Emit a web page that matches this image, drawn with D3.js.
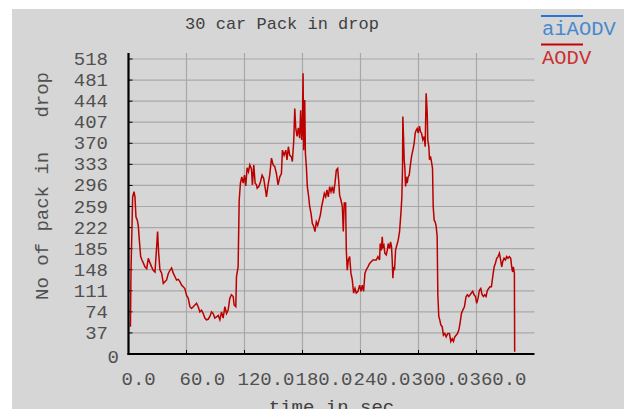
<!DOCTYPE html>
<html>
<head>
<meta charset="utf-8">
<script src="https://cdn.jsdelivr.net/npm/d3@7"></script>
<style>
  body { margin: 0; background: #fff; }
  svg text { font-family: "Courier New", "Liberation Mono", monospace; white-space: pre; }
</style>
</head>
<body>
<svg id="chart" width="624" height="409"></svg>
<script>
// time (sec) and packets dropped
const times = [2.0, 2.6, 4.3, 5.7, 6.7, 7.7, 9.1, 10.2, 11.2, 12.6, 13.9, 15.3, 17.0, 18.8, 20.5, 22.2, 23.9, 25.6, 27.4, 29.1, 30.1, 31.2, 32.5, 34.3, 36.0, 37.7, 39.4, 41.1, 42.9, 44.6, 46.3, 48.0, 49.7, 51.5, 53.2, 54.9, 56.6, 58.3, 60.1, 61.8, 63.5, 65.2, 67.0, 68.7, 70.4, 72.1, 73.8, 75.6, 77.3, 79.0, 80.7, 82.4, 84.2, 85.9, 87.6, 89.3, 91.1, 92.8, 94.5, 96.2, 97.9, 99.7, 101.4, 103.1, 104.8, 106.5, 108.3, 109.3, 111.0, 111.7, 113.4, 114.5, 115.8, 117.2, 118.6, 120.0, 121.3, 122.7, 124.1, 125.5, 127.2, 128.2, 129.6, 131.0, 132.4,
  133.1, 134.8, 136.5, 138.2, 139.9, 141.7, 142.7, 144.4, 146.1, 147.9, 149.6, 151.3, 153.0, 154.7, 156.5, 158.2, 159.2, 160.9, 162.7, 164.0, 165.4, 166.8, 168.5, 169.5, 170.9, 172.0, 173.0, 174.4, 175.7, 177.1, 178.1, 179.2, 179.9, 180.6, 181.2, 182.3, 183.0, 184.0, 185.0, 186.4, 187.4, 188.8, 190.2, 191.6, 192.9, 194.3, 195.7, 197.1, 198.5, 199.8, 201.2, 202.6, 204.0, 205.3, 206.7, 208.1, 209.5, 210.9, 212.2, 213.6, 215.0, 216.4, 217.4, 218.4, 219.8, 221.2, 222.2, 223.2, 224.6, 225.3, 226.3, 227.4, 228.8, 230.1, 231.5, 232.9, 234.3, 235.6, 237.4, 239.1, 240.5, 241.8, 243.2, 244.6, 246.0, 247.7, 249.4, 251.1, 252.8, 254.6, 256.3, 258.0, 259.7,
  260.4, 261.5, 262.5, 263.2, 264.2, 265.2, 266.6, 267.7, 268.7, 270.1, 271.1, 272.1, 272.8, 273.5, 274.2, 275.2, 276.3, 277.6, 279.0, 280.4, 281.8, 282.8, 283.5, 283.8, 284.5, 285.2, 285.9, 286.6, 287.3, 288.3, 289.3, 290.4, 291.4, 292.8, 294.2, 295.5, 296.6, 297.6, 298.6, 299.7, 301.0, 302.1, 303.1, 304.5, 305.9, 306.9, 307.9, 309.0, 309.6, 310.7, 311.4, 312.4, 313.4, 314.5, 315.2, 316.2, 317.2, 318.3, 319.3, 320.0, 321.0, 322.0, 323.1, 324.5, 325.8, 327.2, 328.6, 330.3, 332.0, 333.4, 334.8, 336.2, 337.5, 338.9, 340.3, 341.7, 343.0, 344.4, 345.8, 347.5, 349.2, 350.6, 352.0, 353.4, 354.7, 356.1, 357.5, 358.9, 360.2, 361.6, 363.0, 364.4, 365.8, 367.1, 368.5, 369.9, 371.3, 372.6, 374.0, 375.4, 376.8, 378.2, 379.5, 380.9, 382.3, 383.7, 385.0, 386.1, 387.1, 388.5, 389.9, 391.2, 392.6, 394.0, 395.4, 396.4, 397.4, 398.1, 399.2, 399.5];
const aodv = [48, 147, 276, 285, 276, 241, 235, 224, 200, 171, 165, 160, 153, 150, 168, 160, 153, 147, 144, 188, 215, 177, 148, 142, 124, 127, 130, 141, 147, 151, 142, 136, 130, 131, 127, 121, 118, 115, 103, 98, 83, 80, 83, 86, 89, 83, 74, 77, 71, 63, 60, 61, 66, 74, 71, 63, 65, 68, 60, 74, 63, 83, 71, 77, 98, 104, 101, 86, 83, 136, 153, 270, 300, 311, 300, 314, 295, 327, 320, 332, 325, 297, 332, 300, 297,
  291, 294, 302, 314, 308, 288, 276, 297, 314, 344, 332, 329, 317, 297, 311, 317, 358, 349, 358, 341, 364, 349, 346, 338, 373, 431, 397, 382, 397, 379, 428, 376, 400, 493, 358, 446, 352, 329, 294, 276, 259, 247, 229, 224, 215, 232, 226, 235, 244, 259, 270, 282, 276, 288, 276, 294, 285, 294, 282, 300, 323, 326, 305, 279, 270, 259, 215, 265, 265, 183, 147, 165, 171, 142, 130, 107, 115, 107, 110, 121, 110, 121, 110, 142, 148, 153, 159, 162, 165, 165, 165, 171, 165,
  194, 182, 206, 188, 191, 177, 174, 182, 194, 185, 197, 188, 165, 133, 153, 147, 183, 191, 200, 215, 247, 276, 329, 417, 382, 341, 326, 294, 311, 300, 311, 314, 329, 347, 358, 370, 388, 393, 396, 388, 400, 390, 388, 376, 382, 364, 458, 423, 376, 364, 341, 347, 338, 326, 259, 235, 232, 224, 206, 104, 66, 60, 51, 48, 33, 36, 30, 36, 36, 22, 27, 22, 30, 33, 36, 42, 54, 71, 77, 83, 101, 104, 101, 104, 107, 110, 104, 101, 89, 98, 112, 115, 104, 101, 104, 101, 112, 115, 118, 118, 136, 153, 159, 168, 171, 177, 165, 153, 162, 168, 165, 171, 168, 171, 168, 153, 144, 153, 142, 4];
const xTicks = [0, 60, 120, 180, 240, 300, 360];
const yTicks = [0, 37, 74, 111, 148, 185, 222, 259, 296, 333, 370, 407, 444, 481, 518];
const legendNames = ["aiAODV", "AODV"];
const legendColors = ["#2b75d2", "#c80000"];

const svg = d3.select("#chart");
const W = 624, H = 409;
const plot = {left: 128.5, right: 534.5, top: 53, bottom: 354};

svg.append("rect").attr("x", 12).attr("y", 9).attr("width", W - 12).attr("height", H - 9)
   .attr("fill", "#d6d6d6");

const x = d3.scaleLinear().domain([0, 420]).range([plot.left, plot.right]);
const y = d3.scaleLinear().domain([0, 518]).range([plot.bottom, 59]);

// grid
svg.append("g").selectAll("line").data(yTicks.slice(1)).join("line")
   .attr("x1", plot.left).attr("x2", plot.right)
   .attr("y1", d => y(d)).attr("y2", d => y(d))
   .attr("stroke", "#a8a8a8").attr("stroke-width", 1.2);
svg.append("g").selectAll("line").data(xTicks.slice(1)).join("line")
   .attr("x1", d => x(d)).attr("x2", d => x(d))
   .attr("y1", plot.bottom).attr("y2", plot.top)
   .attr("stroke", "#a8a8a8").attr("stroke-width", 1.2);

// small ticks
svg.append("g").selectAll("line").data(yTicks.slice(1)).join("line")
   .attr("x1", plot.left).attr("x2", plot.left + 4)
   .attr("y1", d => y(d)).attr("y2", d => y(d))
   .attr("stroke", "#000").attr("stroke-width", 1);
svg.append("g").selectAll("line").data(xTicks.slice(1)).join("line")
   .attr("x1", d => x(d)).attr("x2", d => x(d))
   .attr("y1", plot.bottom).attr("y2", plot.bottom - 4)
   .attr("stroke", "#000").attr("stroke-width", 1);

// data line
const line = d3.line().x((d, i) => x(times[i])).y(d => y(d));
svg.append("path").datum(aodv)
   .attr("fill", "none").attr("stroke", "#bb0000").attr("stroke-width", 1.5)
   .attr("d", line);

// axes
svg.append("line").attr("x1", plot.left).attr("x2", plot.left)
   .attr("y1", plot.top).attr("y2", plot.bottom + 1)
   .attr("stroke", "#000").attr("stroke-width", 2.2);
svg.append("line").attr("x1", plot.left - 1).attr("x2", plot.right)
   .attr("y1", plot.bottom).attr("y2", plot.bottom)
   .attr("stroke", "#000").attr("stroke-width", 2.2);

// tick labels
svg.append("g").selectAll("text").data(yTicks).join("text")
   .attr("x", d => d === 0 ? 119 : 108)
   .attr("y", d => y(d) + (d === 0 ? 9 : 6))
   .attr("text-anchor", "end")
   .attr("font-size", 19).attr("fill", "#505050")
   .text(d => d);
svg.append("g").selectAll("text").data(xTicks).join("text")
   .attr("x", d => x(d) - 7)
   .attr("y", 385)
   .attr("font-size", 19).attr("fill", "#505050")
   .text(d => d.toFixed(1));

// titles
svg.append("text").attr("x", 282).attr("y", 29).attr("text-anchor", "middle")
   .attr("font-size", 17).attr("fill", "#404040").text("30 car Pack in drop");
svg.append("text").attr("x", (plot.left + plot.right) / 2).attr("y", 413)
   .attr("text-anchor", "middle").attr("font-size", 19).attr("fill", "#404040")
   .text("time in sec");
svg.append("text").attr("transform", "translate(48,186) rotate(-90)")
   .attr("text-anchor", "middle").attr("font-size", 19).attr("fill", "#505050")
   .text("No of pack in   drop");

// legend
const legend = svg.append("g").selectAll("g").data(legendNames).join("g")
   .attr("transform", (d, i) => `translate(541,${16 + i * 28.5})`);
legend.append("line").attr("x1", 0).attr("x2", 42).attr("y1", 0).attr("y2", 0)
   .attr("stroke", (d, i) => legendColors[i]).attr("stroke-width", 2);
legend.append("text").attr("x", 1).attr("y", 19)
   .attr("font-size", 20.5)
   .attr("fill", (d, i) => i === 0 ? "#4a88cc" : "#cc3030")
   .text(d => d);
</script>
</body>
</html>
